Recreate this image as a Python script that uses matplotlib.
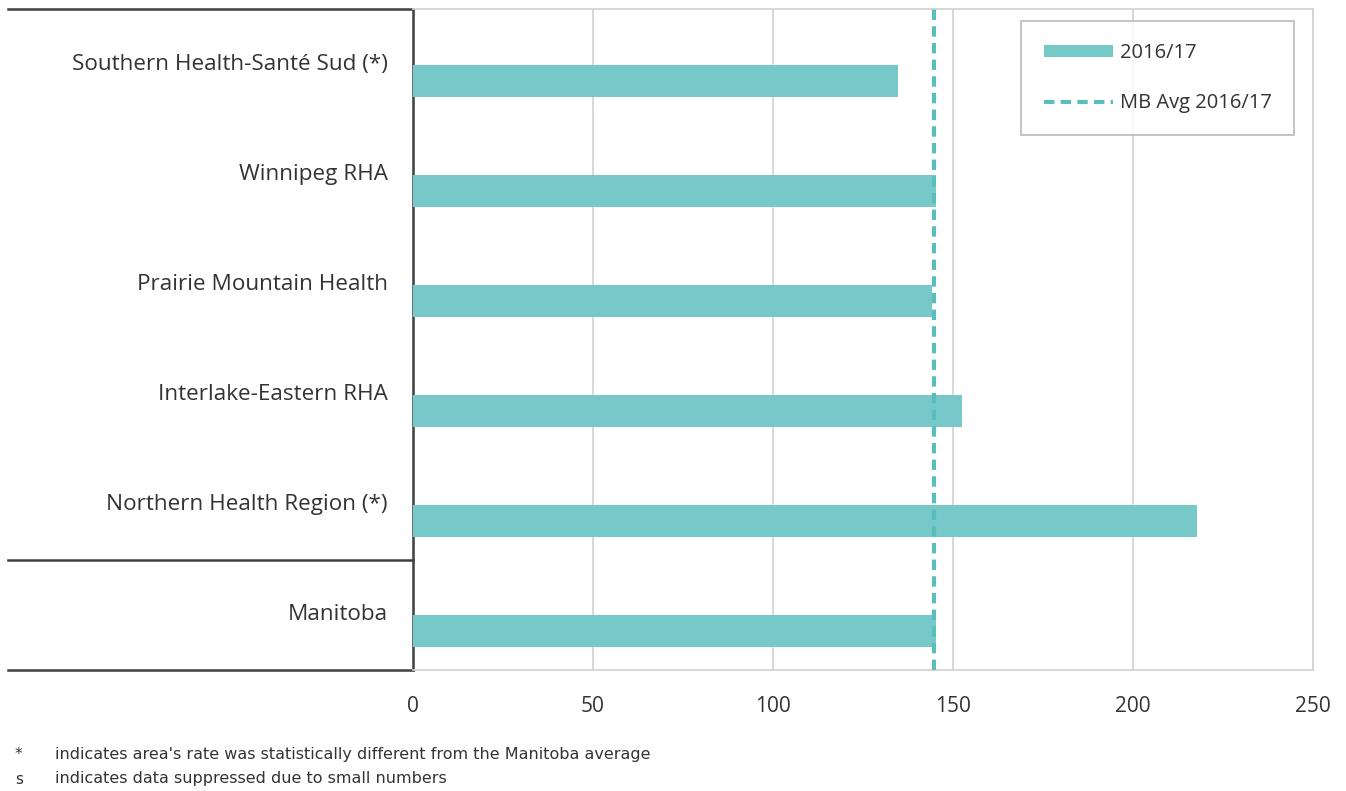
import numpy as np
import matplotlib.pyplot as plt
from matplotlib.patches import Patch
from matplotlib.lines import Line2D
import matplotlib.transforms as mtransforms

# data
regions = ['Southern Health-Santé Sud (*)', 'Winnipeg RHA', 'Prairie Mountain Health',
           'Interlake-Eastern RHA', 'Northern Health Region (*)', 'Manitoba']
rates = [134.8, 145.3, 144.3, 152.6, 217.9, 145.3]
mb_avg = 144.7
xticks = [0, 50, 100, 150, 200, 250]
footnotes = [('*', "indicates area's rate was statistically different from the Manitoba average"),
             ('s', 'indicates data suppressed due to small numbers')]

bar_col = '#76C9C8'
line_col = '#5BBDBB'
txt_col = '#333333'

plt.rcParams['font.family'] = ['Open Sans', 'DejaVu Sans']

fig = plt.figure(figsize=(13.46, 7.91), dpi=100)
ax = fig.add_axes([413/1346, 1-670/791, 900/1346, 661/791])

y = np.arange(len(regions))
ax.barh(y + 0.15, rates, height=0.29, color=bar_col, zorder=3)
ax.axvline(mb_avg, color=line_col, lw=3, ls=(0, (2.5, 1.5)), zorder=4)

ax.set_xlim(0, 250)
ax.set_ylim(len(regions) - 0.5, -0.5)
ax.set_xticks(xticks)
ax.set_xticklabels([str(t) for t in xticks], fontsize=15, color=txt_col)
ax.set_yticks([])
ax.tick_params(axis='x', length=0, pad=19)
ax.grid(axis='x', color='#d4d4d4', lw=1.3, zorder=0)
for s in ['top', 'right', 'bottom']:
    ax.spines[s].set_color('#d4d4d4')
    ax.spines[s].set_linewidth(1.3)
ax.spines['left'].set_color('#404040')
ax.spines['left'].set_linewidth(1.8)

# left table frame
tr = mtransforms.blended_transform_factory(ax.transAxes, ax.transData)
x0 = (8 - 413) / 900
for yy in [-0.5, len(regions) - 1.5, len(regions) - 0.5]:
    ax.plot([x0, 0], [yy, yy], color='#404040', lw=1.8, transform=tr, clip_on=False)

for yi, name in zip(y, regions):
    ax.text(-25/900, yi, name, transform=tr, ha='right', va='center',
            fontsize=16.2, color=txt_col)

handles = [Patch(facecolor=bar_col, edgecolor='none'),
           Line2D([0], [0], color=line_col, lw=3, ls=(0, (2.5, 1.5)))]
leg = ax.legend(handles, ['2016/17', 'MB Avg 2016/17'], loc='upper right',
                bbox_to_anchor=(0.979, 0.982), fontsize=14.5, frameon=True, fancybox=False,
                borderpad=1.1, labelspacing=1.5, handlelength=3.45, handleheight=0.6,
                handletextpad=0.35, labelcolor=txt_col, borderaxespad=0)
leg.get_frame().set_edgecolor('#b0b0b0')
leg.get_frame().set_linewidth(1.3)

for i, (sym, txt) in enumerate(footnotes):
    yy = 1 - (755 + 24*i) / 791
    fig.text(15/1346, yy, sym, fontsize=11, color=txt_col, va='center',
             family=['Liberation Sans Narrow', 'DejaVu Sans'])
    fig.text(55/1346, yy, txt, fontsize=11.5, color=txt_col, va='center',
             family=['Liberation Sans Narrow', 'DejaVu Sans'])

fig.savefig('out.png', dpi=100)
